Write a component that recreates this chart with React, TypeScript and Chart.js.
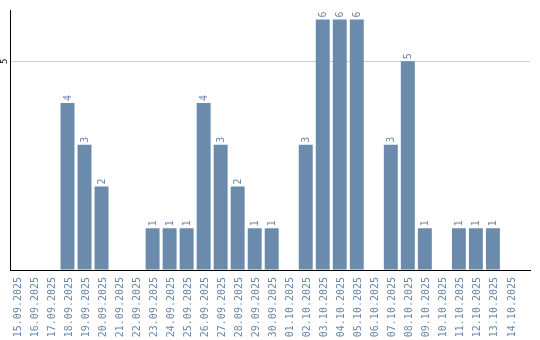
import React, { useEffect, useRef } from "react";
import { Chart, registerables } from "chart.js";

Chart.register(...registerables);

const dateLabels: string[] = [
  "15.09.2025", "16.09.2025", "17.09.2025", "18.09.2025", "19.09.2025", "20.09.2025",
  "21.09.2025", "22.09.2025", "23.09.2025", "24.09.2025", "25.09.2025", "26.09.2025",
  "27.09.2025", "28.09.2025", "29.09.2025", "30.09.2025", "01.10.2025", "02.10.2025",
  "03.10.2025", "04.10.2025", "05.10.2025", "06.10.2025", "07.10.2025", "08.10.2025",
  "09.10.2025", "10.10.2025", "11.10.2025", "12.10.2025", "13.10.2025", "14.10.2025",
];

const counts: number[] = [
  0, 0, 0, 4, 3, 2, 0, 0, 1, 1, 1, 4, 3, 2, 1, 1, 0, 3, 6, 6, 6, 0, 3, 5, 1, 0, 1, 1, 1, 0,
];

const yTickValues: number[] = [5];

const BAR_COLOR = "#6a8bac";
const LABEL_COLOR = "#6688aa";
const FONT = "DejaVu Sans Mono";

const valueLabelPlugin = {
  id: "valueLabels",
  afterDatasetsDraw(chart: any) {
    const ctx = chart.ctx;
    const meta = chart.getDatasetMeta(0);
    ctx.save();
    ctx.font = `10px "${FONT}"`;
    ctx.fillStyle = LABEL_COLOR;
    ctx.textAlign = "left";
    ctx.textBaseline = "middle";
    meta.data.forEach((bar: any, i: number) => {
      const v = counts[i];
      if (!v) return;
      ctx.save();
      ctx.translate(bar.x + 1, bar.y - 2);
      ctx.rotate(-Math.PI / 2);
      ctx.fillText(String(v), 0, 0);
      ctx.restore();
    });
    const yScale = chart.scales.y;
    ctx.fillStyle = "#000";
    ctx.textAlign = "center";
    ctx.textBaseline = "middle";
    ctx.font = `9px "${FONT}"`;
    yTickValues.forEach((t) => {
      const py = yScale.getPixelForValue(t);
      ctx.save();
      ctx.translate(yScale.left - 5, py);
      ctx.rotate(-Math.PI / 2);
      ctx.fillText(String(t), 0, 0);
      ctx.restore();
    });
    ctx.restore();
  },
};

export default function App() {
  const ref = useRef<HTMLCanvasElement | null>(null);

  useEffect(() => {
    if (!ref.current) return;
    const chart = new Chart(ref.current, {
      type: "bar",
      data: {
        datasets: [
          {
            data: counts.map((v, i) => ({ x: i, y: v })),
            backgroundColor: BAR_COLOR,
            borderWidth: 0,
            barPercentage: 0.82,
            categoryPercentage: 1,
          },
        ],
      },
      options: {
        animation: false,
        responsive: false,
        maintainAspectRatio: false,
        layout: { padding: { left: 10, top: 10, right: 10, bottom: 0 } },
        plugins: {
          legend: { display: false },
          tooltip: { enabled: false },
        },
        scales: {
          x: {
            type: "linear",
            offset: false,
            min: -0.38,
            max: 30.18,
            grid: { display: false, drawTicks: false },
            border: { display: true, color: "#000", width: 1 },
            afterFit: (s: any) => {
              s.paddingLeft = 0;
              s.paddingRight = 0;
              s.height = 70;
            },
            ticks: {
              stepSize: 1,
              includeBounds: false,
              autoSkip: false,
              maxRotation: 90,
              minRotation: 90,
              padding: 7,
              labelOffset: 2,
              color: LABEL_COLOR,
              font: { family: FONT, size: 10 },
              callback: (v: any) =>
                Number.isInteger(v) && dateLabels[v] !== undefined ? dateLabels[v] : "",
            },
          },
          y: {
            min: 0,
            max: 6.23,
            grid: {
              drawTicks: false,
              color: (c: any) => (c.tick && yTickValues.includes(c.tick.value) ? "#cccccc" : "rgba(0,0,0,0)"),
            },
            border: { display: true, color: "#000", width: 1 },
            ticks: { display: false, stepSize: 1 },
          },
        },
      },
      plugins: [valueLabelPlugin],
    });
    return () => chart.destroy();
  }, []);

  return (
    <div style={{ position: "absolute", left: 0, top: 0, width: 540, height: 340 }}>
      <canvas ref={ref} width={540} height={340} />
    </div>
  );
}
